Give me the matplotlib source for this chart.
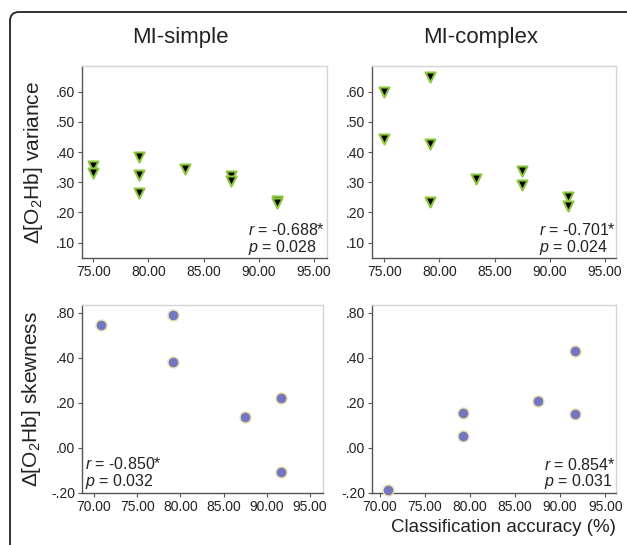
import numpy as np
import matplotlib
matplotlib.use('Agg')
import matplotlib.pyplot as plt
from matplotlib.patches import FancyBboxPatch
from matplotlib.transforms import IdentityTransform

plt.rcParams['font.family'] = ['Liberation Sans', 'DejaVu Sans']
plt.rcParams['mathtext.fontset'] = 'custom'
plt.rcParams['mathtext.rm'] = 'Liberation Sans'
plt.rcParams['mathtext.it'] = 'Liberation Sans:italic'

# Данные
var_simple_x = [75.00, 75.00, 79.17, 79.17, 79.17, 83.33, 87.50, 87.50, 91.67, 91.67]
var_simple_y = [0.354, 0.330, 0.383, 0.324, 0.264, 0.343, 0.321, 0.305, 0.238, 0.232]
var_complex_x = [75.00, 75.00, 79.17, 79.17, 79.17, 83.33, 87.50, 87.50, 91.67, 91.67]
var_complex_y = [0.598, 0.443, 0.648, 0.426, 0.236, 0.310, 0.337, 0.290, 0.252, 0.222]
skew_simple_x = [70.83, 79.17, 79.17, 87.50, 91.67, 91.67]
skew_simple_y = [0.545, 0.591, 0.382, 0.138, 0.220, -0.107]
skew_complex_x = [70.83, 79.17, 79.17, 87.50, 91.67, 91.67]
skew_complex_y = [-0.188, 0.154, 0.053, 0.207, 0.431, 0.150]

stats = [("-0.688*", "0.028"), ("-0.701*", "0.024"), ("-0.850*", "0.032"), ("0.854*", "0.031")]

var_ticks = [0.10, 0.20, 0.30, 0.40, 0.50, 0.60]
var_labels = [".10", ".20", ".30", ".40", ".50", ".60"]
skew_ticks = [-0.20, 0.00, 0.20, 0.40, 0.60]
skew_labels = ["-.20", ".00", ".20", ".40", ".80"]
top_xticks = [75, 80, 85, 90, 95]
bot_xticks = [70, 75, 80, 85, 90, 95]

W, H = 627, 545
fig = plt.figure(figsize=(W / 100, H / 100), dpi=100)

def px(l, t, r, b):
    return [l / W, 1 - b / H, (r - l) / W, (b - t) / H]

ax1 = fig.add_axes(px(82, 66, 327, 258))
ax2 = fig.add_axes(px(372, 66, 616, 258))
ax3 = fig.add_axes(px(82, 305, 323, 493))
ax4 = fig.add_axes(px(372, 305, 616, 493))

def style(ax):
    for s in ['left', 'bottom']:
        ax.spines[s].set_color('#555555')
        ax.spines[s].set_linewidth(1.0)
    for s in ['top', 'right']:
        ax.spines[s].set_color('#d4d4d4')
        ax.spines[s].set_linewidth(1.0)
    ax.tick_params(direction='out', length=3, width=0.8, color='#555555',
                   labelsize=10, labelcolor='#222222', pad=2)

tri = dict(marker='v', s=52, facecolor='black', edgecolor='#8cc63f', linewidths=1.5, zorder=3)
dot = dict(marker='o', s=62, facecolor='#7377c2', edgecolor='#eadfa8', linewidths=1.0, zorder=3)

ax1.scatter(var_simple_x, var_simple_y, **tri)
ax2.scatter(var_complex_x, var_complex_y, **tri)
ax3.scatter(skew_simple_x, skew_simple_y, clip_on=False, **dot)
ax4.scatter(skew_complex_x, skew_complex_y, clip_on=False, **dot)

for ax in [ax1, ax2]:
    ax.set_ylim(0.049, 0.685)
    ax.set_yticks(var_ticks)
    ax.set_yticklabels(var_labels)
    ax.set_xticks(top_xticks)
    ax.set_xticklabels(["%.2f" % v for v in top_xticks])
ax1.set_xlim(73.97, 96.2)
ax2.set_xlim(73.9, 96.0)

for ax in [ax3, ax4]:
    ax.set_ylim(-0.201, 0.634)
    ax.set_yticks(skew_ticks)
    ax.set_yticklabels(skew_labels)
    ax.set_xticks(bot_xticks)
    ax.set_xticklabels(["%.2f" % v for v in bot_xticks])
ax3.set_xlim(68.6, 96.5)
ax4.set_xlim(69.1, 96.2)

for ax in [ax1, ax2, ax3, ax4]:
    style(ax)

# подписи r и p
pos = [(0.678, 0.146, 0.057), (0.686, 0.146, 0.057), (0.012, 0.154, 0.060), (0.705, 0.149, 0.060)]
for ax, (r, p), (x, yr, yp) in zip([ax1, ax2, ax3, ax4], stats, pos):
    ax.text(x, yr, "$r$ = " + r, transform=ax.transAxes, fontsize=11.5, color='#222222', va='center', ha='left')
    ax.text(x, yp, "$p$ = " + p, transform=ax.transAxes, fontsize=11.5, color='#222222', va='center', ha='left')

ax1.set_ylabel(r"$\Delta$[O$_2$Hb] variance", fontsize=15, color='#222222', labelpad=8)
ax3.set_ylabel(r"$\Delta$[O$_2$Hb] skewness", fontsize=15, color='#222222', labelpad=6)

fig.text(180 / W, 1 - 37 / H, "MI-simple", fontsize=16, ha='center', va='center', color='#222222')
fig.text(481 / W, 1 - 37 / H, "MI-complex", fontsize=16, ha='center', va='center', color='#222222')
fig.text(503 / W, 1 - 527 / H, "Classification accuracy (%)", fontsize=13.5, ha='center', va='center', color='#222222')

# рамка со скруглённым углом
frame = FancyBboxPatch((10, -30), 700, H - 12 + 30, boxstyle='round,pad=0,rounding_size=9',
                       transform=IdentityTransform(), facecolor='none', edgecolor='#222222', linewidth=1.3)
fig.patches.append(frame)

fig.savefig('out.png', dpi=100)
